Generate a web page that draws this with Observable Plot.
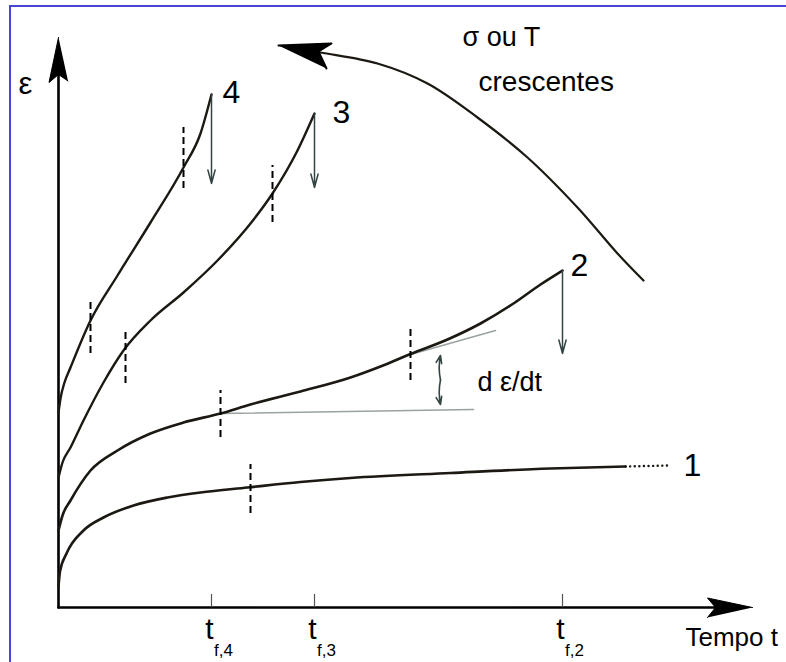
<!DOCTYPE html>
<html><head><meta charset="utf-8">
<script src="https://cdn.jsdelivr.net/npm/d3@7"></script>
<script src="https://cdn.jsdelivr.net/npm/@observablehq/plot@0.6"></script>
<style>
body{margin:0;background:#fff;}
#wrap{position:relative;width:786px;height:662px;overflow:hidden;background:#fff;}
#border{position:absolute;left:9px;top:5px;width:900px;height:900px;border-left:2px solid #4646d2;border-top:2px solid #4646d2;pointer-events:none;}
</style></head><body><div id="wrap"></div>
<script>
// Creep curves: [time, strain] (arbitrary units)
const creep1 = [[0,4.2],[0.3,7.2],[1.6,10.8],[5,15.4],[9,18],[15,20.4],[21.8,22],[28.4,23],[37.8,24],[48.4,25.1],[58.4,25.9],[78.4,26.9],[98.4,27.8],[113.4,28.2]];
const creep1Dots = [[113.4,28.2],[122,28.4]];
const creep2 = [[0,15.4],[0.8,18.4],[2.4,21.4],[6.4,27.4],[11.8,31.4],[18.4,34.8],[25,37],[32.4,38.8],[38.4,40.6],[48.4,43.2],[58.4,46],[64.4,48.2],[70.4,50.7],[77.8,53.6],[84.4,56.8],[91,60.8],[96.4,64.6],[100.8,67.4]];
const creep3 = [[0,26],[0.8,29],[2.4,32],[5,37.4],[9,45],[13,51.4],[18.4,57.4],[25,63],[31.8,69.4],[38.4,76.8],[42.8,82.8],[47.8,91.4],[51.2,98.8]];
const creep4 = [[0,39],[0.4,41.8],[1.2,45],[2.4,48],[6.4,57.4],[11.8,66.4],[18.4,77],[25,88],[28.4,94.8],[30.6,102.6]];

// rupture times and their labels
const ruptureTimes = [30.6, 51.2, 100.8];
const ruptureLabels = ["f,4", "f,3", "f,2"];
// rupture arrows: [t, strain at end of curve, strain at arrow tip]
const ruptureArrows = [[30.6,102.6,84.8],[51.2,98.8,84],[100.8,67.4,50.8]];

// stage boundaries (dashed): [t, e1, e2]
const stageMarks = [[38.4,18.8,28.6],[32.4,34,43.4],[70.4,45.4,55.6],[13.4,44.8,55.4],[42.8,77,88.4],[6.4,50.8,61.4],[25,83.8,96]];

// tangent lines on curve 2
const tangentFlat = [[32.4,38.8],[83,39.6]];
const tangentSlope = [[70.4,50.6],[87.4,55.4]];
// d eps/dt double arrow [t, e low, e high]
const rateArrow = [76, 40.6, 50.4];

// curve labels [text, t, e]
const curveLabels = [["4",32.8,103],["3",54.8,99],["2",102.4,68.4],["1",125,28.4]];

// "increasing sigma or T" sweep arrow
const sweep = [[117,65.4],[111.8,70.8],[103.8,80],[93.8,90],[83.8,98],[73.8,104.8],[63.8,108.8],[52.4,111],[47,112]];
const sweepHead = [[44,112.4],[54.6,112.8],[52,111.2],[53.6,107.8]];

// axes
const yAxisTop = 114, xAxisEnd = 138.8;
const yHead = [[0,yAxisTop],[-1.9,105],[0,106.6],[1.9,105.3]];
const xHead = [[xAxisEnd,0],[129.8,1.9],[131.4,0],[129.8,-2]];

const ink = "#1c1812";
const font = "'Liberation Sans', Arial, Helvetica, sans-serif";
const X = d => d[0], Y = d => d[1];

const chart = Plot.plot({
  width: 786, height: 662,
  marginLeft: 58, marginRight: 28, marginTop: 32, marginBottom: 55,
  x: {domain: [0, 140], axis: null},
  y: {domain: [0, 115], axis: null},
  style: {fontFamily: font, background: "#fff", overflow: "visible"},
  marks: [
    // axes
    Plot.line([[0,0],[0,yAxisTop - 4]], {x: X, y: Y, stroke: "#000", strokeWidth: 2.6}),
    Plot.line([[0,0],[xAxisEnd - 4,0]], {x: X, y: Y, stroke: "#000", strokeWidth: 2.6}),
    Plot.line(yHead, {x: X, y: Y, fill: "#000", stroke: "#000", strokeWidth: 1}),
    Plot.line(xHead, {x: X, y: Y, fill: "#000", stroke: "#000", strokeWidth: 1}),
    Plot.ruleX(ruptureTimes, {x: d => d, y1: 0, y2: 2.6, stroke: "#555", strokeWidth: 1.2}),
    // tangents
    Plot.line(tangentFlat, {x: X, y: Y, stroke: "#9aa2a2", strokeWidth: 1.6}),
    Plot.line(tangentSlope, {x: X, y: Y, stroke: "#9aa2a2", strokeWidth: 1.6}),
    // curves
    Plot.line(creep1, {x: X, y: Y, curve: "monotone-x", stroke: ink, strokeWidth: 2.6}),
    Plot.line(creep1Dots, {x: X, y: Y, stroke: ink, strokeWidth: 2.4, strokeDasharray: "0.1,4.5", strokeLinecap: "round"}),
    Plot.line(creep2, {x: X, y: Y, curve: "monotone-x", stroke: ink, strokeWidth: 2.6}),
    Plot.line(creep3, {x: X, y: Y, curve: "monotone-x", stroke: ink, strokeWidth: 2.4}),
    Plot.line(creep4, {x: X, y: Y, curve: "monotone-x", stroke: ink, strokeWidth: 2.4}),
    // stage boundaries
    Plot.ruleX(stageMarks, {x: d => d[0], y1: d => d[1], y2: d => d[2], stroke: "#000", strokeWidth: 2, strokeDasharray: "7,4"}),
    // rupture arrows
    Plot.arrow(ruptureArrows, {x: d => d[0], y1: d => d[1], y2: d => d[2], stroke: "#344444", strokeWidth: 1.5, headLength: 14, headAngle: 30}),
    // rate double arrow
    Plot.arrow([rateArrow], {x: d => d[0] + 0.4, y1: d => (d[1] + d[2]) / 2, y2: d => d[2], stroke: "#344444", strokeWidth: 1.6, headLength: 11, headAngle: 40, bend: 12}),
    Plot.arrow([rateArrow], {x: d => d[0] + 0.4, y1: d => (d[1] + d[2]) / 2, y2: d => d[1], stroke: "#344444", strokeWidth: 1.6, headLength: 11, headAngle: 40, bend: -12}),
    // sweep arrow
    Plot.line(sweep, {x: X, y: Y, curve: "catmull-rom", stroke: ink, strokeWidth: 2.2}),
    Plot.line(sweepHead, {x: X, y: Y, fill: "#000", stroke: "#000", strokeWidth: 2, strokeLinejoin: "round"}),
    // texts
    Plot.text(curveLabels, {x: d => d[1], y: d => d[2], text: d => d[0], textAnchor: "start", fontSize: 32, fill: "#000"}),
    Plot.text(["ε"], {x: -6.6, y: 104.6, text: d => d, fontSize: 31, fill: "#000"}),
    Plot.text(["σ ou T"], {x: 80.8, y: 114, text: d => d, textAnchor: "start", fontSize: 27, fill: "#000"}),
    Plot.text(["crescentes"], {x: 84, y: 105, text: d => d, textAnchor: "start", fontSize: 28, fill: "#000"}),
    Plot.text(["d ε/dt"], {x: 83.8, y: 45, text: d => d, textAnchor: "start", fontSize: 27, fill: "#000"}),
    Plot.text(ruptureTimes, {x: d => d, dx: -2, y: -4.4, text: () => "t", fontSize: 30, fill: "#000"}),
    Plot.text(ruptureTimes, {x: d => d, dx: 12, y: -8.6, text: (d, i) => ruptureLabels[i], fontSize: 17, fill: "#000"}),
    Plot.text(["Tempo t"], {x: 125.4, y: -6, text: d => d, textAnchor: "start", fontSize: 26, fill: "#000"})
  ]
});
const wrap = document.getElementById("wrap");
wrap.appendChild(chart);
const b = document.createElement("div"); b.id = "border"; wrap.appendChild(b);
</script></body></html>
